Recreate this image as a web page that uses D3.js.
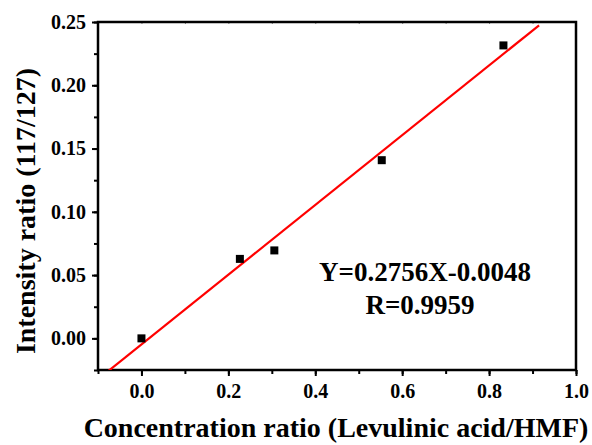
<!DOCTYPE html>
<html>
<head>
<meta charset="utf-8">
<script src="https://cdn.jsdelivr.net/npm/d3@7"></script>
<style>
  body { margin: 0; background: #fff; }
  svg { display: block; }
  text { font-family: "Liberation Serif", "Times New Roman", serif; font-weight: bold; fill: #000; }
</style>
</head>
<body>
<svg width="592" height="445"></svg>
<script>
// measured points
var concRatio = [0.0, 0.2265, 0.3058, 0.553, 0.833];
var intensityRatio = [0.0, 0.0628, 0.0695, 0.1408, 0.2315];
// linear fit from the figure
var slope = 0.2756, intercept = -0.0048, rValue = 0.9959;
var fitRange = [-0.1, 0.915];
var xTicks = [0.0, 0.2, 0.4, 0.6, 0.8, 1.0];
var yTicks = [0.00, 0.05, 0.10, 0.15, 0.20, 0.25];

var svg = d3.select("svg"),
    margin = {top: 22, right: 16, bottom: 75, left: 98},
    width = +svg.attr("width") - margin.left - margin.right,
    height = +svg.attr("height") - margin.top - margin.bottom,
    g = svg.append("g").attr("transform", "translate(" + margin.left + "," + margin.top + ")");

var x = d3.scaleLinear().domain([-0.1, 1.0]).range([0, width]);
var y = d3.scaleLinear().domain([-0.025, 0.25]).range([height, 0]);

g.append("clipPath").attr("id", "clip")
  .append("rect").attr("width", width).attr("height", height);

// minor ticks
var xMinor = d3.range(-0.1, 1.0001, 0.1);
var yMinor = d3.range(-0.025, 0.2501, 0.025);

g.append("g")
    .attr("transform", "translate(0," + height + ")")
    .call(d3.axisBottom(x).tickValues(xMinor).tickSize(4).tickFormat(""))
    .call(function (a) { a.select(".domain").remove(); a.selectAll("line").attr("stroke-width", 2); });
g.append("g")
    .call(d3.axisLeft(y).tickValues(yMinor).tickSize(4).tickFormat(""))
    .call(function (a) { a.select(".domain").remove(); a.selectAll("line").attr("stroke-width", 2); });
g.append("g")
    .call(d3.axisTop(x).tickValues(xMinor).tickSize(-2).tickFormat(""))
    .call(function (a) { a.select(".domain").remove(); a.selectAll("line").attr("stroke", "#888").attr("stroke-width", 1); });

var xAxis = g.append("g")
    .attr("transform", "translate(0," + height + ")")
    .call(d3.axisBottom(x).tickValues(xTicks).tickSize(6).tickPadding(8).tickFormat(d3.format(".1f")));
xAxis.select(".domain").remove();
xAxis.selectAll("line").attr("stroke-width", 2);
xAxis.selectAll("text").style("font-size", "20px");

var yAxis = g.append("g")
    .call(d3.axisLeft(y).tickValues(yTicks).tickSize(6).tickPadding(6).tickFormat(d3.format(".2f")));
yAxis.select(".domain").remove();
yAxis.selectAll("line").attr("stroke-width", 2);
yAxis.selectAll("text").style("font-size", "20px");

// frame
g.append("rect")
    .attr("width", width).attr("height", height)
    .attr("fill", "none").attr("stroke", "#000").attr("stroke-width", 2.5);

// fit line
g.append("line")
    .attr("clip-path", "url(#clip)")
    .attr("x1", x(fitRange[0])).attr("y1", y(slope * fitRange[0] + intercept))
    .attr("x2", x(fitRange[1])).attr("y2", y(slope * fitRange[1] + intercept))
    .attr("stroke", "#ff0000").attr("stroke-width", 2.2);

// points
g.selectAll(".pt")
    .data(concRatio.map(function (d, i) { return [d, intensityRatio[i]]; }))
    .enter().append("rect")
      .attr("class", "pt")
      .attr("x", function (d) { return x(d[0]) - 4; })
      .attr("y", function (d) { return y(d[1]) - 4; })
      .attr("width", 8).attr("height", 8)
      .attr("fill", "#000");

// equation
svg.append("text")
    .attr("x", 425).attr("y", 281)
    .attr("text-anchor", "middle")
    .style("font-size", "27px")
    .text("Y=" + slope + "X-" + Math.abs(intercept).toFixed(4));
svg.append("text")
    .attr("x", 420).attr("y", 314)
    .attr("text-anchor", "middle")
    .style("font-size", "27px")
    .text("R=" + rValue);

// axis titles
svg.append("text")
    .attr("x", 336).attr("y", 437)
    .attr("text-anchor", "middle")
    .style("font-size", "28px")
    .text("Concentration ratio (Levulinic acid/HMF)");
svg.append("text")
    .attr("transform", "translate(35,211) rotate(-90)")
    .attr("text-anchor", "middle")
    .style("font-size", "28px")
    .text("Intensity ratio (117/127)");
</script>
</body>
</html>
